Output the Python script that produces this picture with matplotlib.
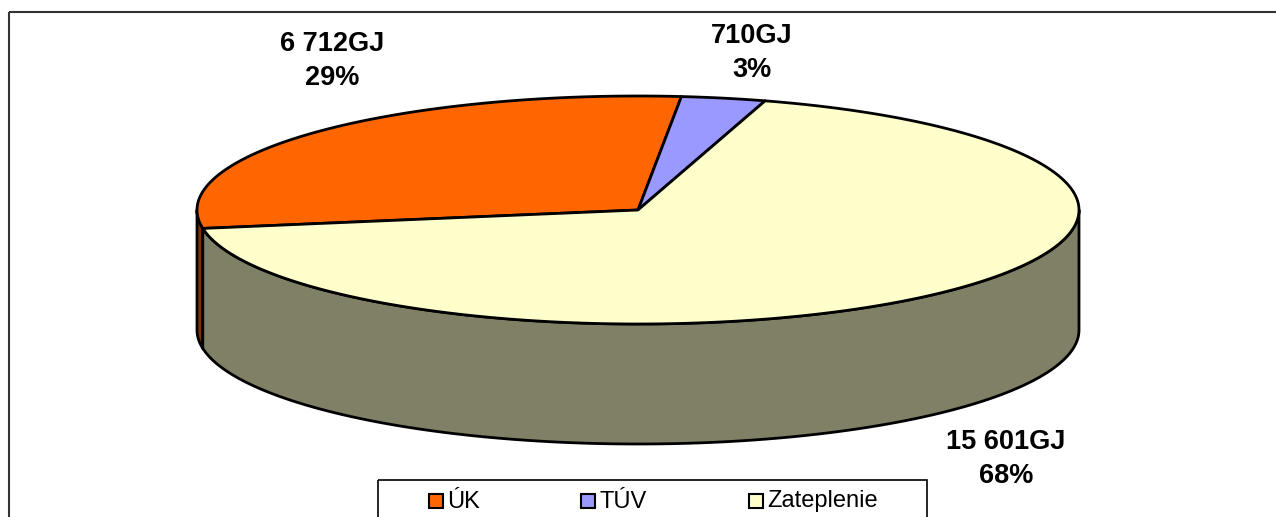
import numpy as np
import matplotlib.pyplot as plt
from matplotlib.patches import Polygon, Rectangle

# data
labels = ['ÚK', 'TÚV', 'Zateplenie']
values = [6712, 710, 15601]
value_texts = ['6 712GJ', '710GJ', '15 601GJ']
top_colors = ['#FF6600', '#9999FF', '#FFFFCC']
side_colors = ['#803300', '#5C5C99', '#808066']

# layout (pixels)
label_pos = [(332, 61), (752, 53), (1006, 459)]
cx, cy, rx, ry, depth = 638, 210, 441, 114, 120
start = 189.3  # first slice starts here, slices go clockwise

fig = plt.figure(figsize=(12.76, 5.17), dpi=100)
ax = fig.add_axes([0, 0, 1, 1])
ax.set_xlim(0, 1276)
ax.set_ylim(517, 0)
ax.axis('off')

# outer chart frame (runs off the right and bottom edges)
ax.add_patch(Rectangle((8.5, 11.5), 1300, 600, fill=False, ec='#333333', lw=1.5))


def arc(t0, t1, dz=0, n=200):
    t = np.radians(np.linspace(t0, t1, n))
    return np.column_stack([cx + rx * np.cos(t), cy - ry * np.sin(t) + dz])


total = sum(values)
fracs = np.array(values) / total
edges = start - np.concatenate([[0], np.cumsum(fracs)]) * 360

# side walls, only the front (lower) half of the rim is visible
for i in range(len(values)):
    lo, hi = edges[i + 1], edges[i]
    for k in range(-2, 2):
        s = max(lo, 180 + 360 * k)
        e = min(hi, 360 + 360 * k)
        if e <= s:
            continue
        top = arc(s, e)
        bot = arc(e, s, dz=depth)
        ax.add_patch(Polygon(np.vstack([top, bot]), closed=True,
                             fc=side_colors[i], ec='black', lw=2, joinstyle='round'))

# top faces
for i in range(len(values)):
    lo, hi = edges[i + 1], edges[i]
    pts = np.vstack([[cx, cy], arc(hi, lo)])
    ax.add_patch(Polygon(pts, closed=True, fc=top_colors[i], ec='black',
                         lw=2, joinstyle='round'))

# data labels
for i in range(len(values)):
    pct = round(100 * values[i] / total)
    ax.text(label_pos[i][0], label_pos[i][1], f'{value_texts[i]}\n{pct}%',
            ha='center', va='center', fontsize=19.5, fontweight='bold',
            family='Liberation Sans', linespacing=1.42)

# legend
ax.add_patch(Rectangle((378, 479.5), 549, 60, fill=False, ec='black', lw=1.2))
leg_x = [429, 581, 749]
for i in range(len(labels)):
    ax.add_patch(Rectangle((leg_x[i], 494), 14, 14, fc=top_colors[i], ec='black', lw=1.5))
    ax.text(leg_x[i] + 18, 501.5, labels[i], ha='left', va='center',
            fontsize=17, family='Liberation Sans')

fig.savefig('out.png', dpi=100)
